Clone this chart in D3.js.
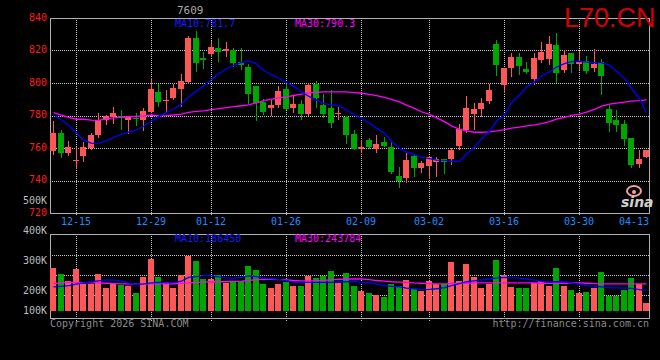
<!DOCTYPE html>
<html><head><meta charset="utf-8">
<script src="https://cdn.jsdelivr.net/npm/d3@7"></script>
<style>html,body{margin:0;padding:0;background:#000;}svg{display:block;}</style>
</head><body>
<svg id="chart" width="660" height="360"></svg>
<script>
// ---------- data ----------
const dates = ["12-10","12-11","12-12","12-15","12-16","12-17","12-18","12-19","12-22","12-23","12-24","12-25","12-26",
"12-29","12-30","12-31","01-05","01-06","01-07","01-08","01-09",
"01-12","01-13","01-14","01-15","01-16","01-19","01-20","01-21","01-22","01-23",
"01-26","01-27","01-28","01-29","01-30","02-02","02-03","02-04","02-05","02-06",
"02-09","02-10","02-11","02-12","02-13","02-24","02-25","02-26","02-27",
"03-02","03-03","03-04","03-05","03-06","03-09","03-10","03-11","03-12","03-13",
"03-16","03-17","03-18","03-19","03-20","03-23","03-24","03-25","03-26","03-27",
"03-30","03-31","04-01","04-02","04-03","04-07","04-08","04-09","04-10","04-13"];
const open  = [757.9,769.3,756.7,752.4,754.8,760.3,767.7,777.2,779.1,779.7,777.2,778.5,777.2,782.3,794.3,789.4,790.9,796.2,800.7,827.9,
815.1,817.6,821.8,819.6,820.2,812.9,809.8,798.0,788.5,784.6,786.4,796.2,784.8,786.8,781.0,799.2,786.4,784.4,780.7,779.1,
768.9,759.6,765.0,759.6,763.8,760.8,743.0,741.4,755.3,747.7,749.1,751.2,753.0,753.2,761.4,771.1,781.1,784.2,789.1,823.7,
798.8,809.2,815.7,808.8,802.5,814.1,814.9,823.1,808.0,818.6,811.4,813.3,809.2,812.9,784.0,777.4,774.8,766.1,750.2,754.4];
const high  = [776.6,771.1,764.4,760.5,763.9,769.3,781.5,780.3,785.2,783.4,779.7,781.5,784.4,803.1,799.6,795.6,799.6,805.7,828.8,831.8,
818.8,826.1,827.9,825.5,821.4,821.4,811.9,798.0,790.1,789.3,798.0,799.6,792.6,789.3,799.8,801.1,793.0,795.8,785.2,779.7,
771.3,765.0,766.3,767.7,766.9,764.4,748.5,757.1,755.9,751.8,755.3,754.2,753.4,759.9,774.8,791.9,787.5,790.7,799.2,826.7,
809.4,818.6,818.2,812.7,818.4,825.5,829.2,830.7,820.0,818.6,819.6,816.5,821.2,814.5,786.4,783.4,777.4,766.1,758.9,758.5];
const low   = [756.3,754.2,755.9,747.7,751.8,759.6,766.5,774.6,775.4,771.7,769.5,774.2,771.3,781.9,786.0,782.3,790.0,785.6,800.3,807.2,
809.2,816.5,813.5,816.5,810.4,808.8,787.5,777.2,781.0,780.5,785.4,783.8,782.2,778.1,780.5,785.4,779.3,773.0,777.6,762.8,
759.6,757.3,760.3,757.7,761.4,744.9,735.7,738.9,743.0,745.1,741.8,742.6,744.5,750.0,759.4,769.9,771.7,779.5,788.0,804.7,
794.5,804.3,805.3,806.4,799.6,812.9,811.4,800.7,806.8,806.8,808.8,806.0,807.4,793.3,770.7,770.5,761.6,748.2,748.5,754.4];
const close = [769.5,756.7,760.8,752.8,760.5,768.1,777.0,779.7,781.5,778.3,779.1,778.1,782.7,796.2,788.4,789.8,796.8,801.1,827.9,812.3,
814.3,822.4,818.8,820.8,812.3,811.2,793.1,787.7,782.2,786.6,795.0,784.0,786.8,781.0,798.8,790.7,781.0,775.4,781.7,767.7,
759.6,760.8,760.8,762.4,761.4,745.5,740.0,752.4,747.9,750.5,754.7,753.4,751.6,758.9,771.7,784.6,784.0,787.6,795.6,811.0,
809.2,816.3,810.4,806.8,815.3,818.8,823.7,806.2,817.0,811.4,812.9,807.4,811.9,804.3,775.6,774.2,765.6,749.3,753.4,758.5];
const ma10 = [780.3,777.2,774.2,769.1,765.0,762.8,763.0,764.4,766.5,768.5,769.7,771.1,773.2,776.6,779.3,781.9,784.0,787.0,791.5,795.0,
798.2,802.1,805.7,808.8,810.8,812.5,813.5,811.9,807.8,805.1,803.1,800.3,798.2,794.5,791.9,789.5,787.4,786.4,786.0,783.4,
780.3,778.3,775.2,772.2,769.1,764.0,759.9,757.5,755.9,754.2,753.4,752.6,752.4,751.8,751.8,756.3,760.3,765.6,770.1,776.6,
780.3,788.0,792.5,797.6,800.7,804.3,806.8,809.8,811.9,813.1,813.3,812.9,812.5,812.5,810.8,807.2,802.7,796.6,790.5,781.7];
const ma30 = [781.7,780.3,778.9,777.7,777.7,777.2,777.0,777.9,778.5,778.9,779.3,779.5,779.7,780.3,779.7,779.9,780.3,780.9,781.9,782.5,
782.9,783.6,784.2,784.8,785.4,786.0,786.6,787.8,789.1,790.1,790.9,791.5,792.3,793.1,793.9,794.3,794.5,794.5,794.5,794.5,
794.1,793.7,793.0,792.2,791.1,789.9,788.4,786.4,784.4,782.3,780.7,778.7,776.2,773.6,771.5,770.5,769.7,769.7,769.9,770.5,
771.3,772.2,772.8,773.6,774.2,775.0,776.2,777.7,778.9,780.1,780.9,782.1,783.8,785.8,787.0,787.6,788.2,788.8,789.1,789.6];
// volume in thousands
const volume = [278,259,233,275,225,224,259,211,224,220,219,192,246,308,249,230,211,253,317,301,
240,240,253,227,235,233,284,272,223,213,223,230,217,217,252,243,252,268,227,261,
219,203,190,180,170,226,219,239,207,203,235,226,224,297,235,290,248,210,226,303,
255,216,210,210,227,235,219,277,219,206,190,195,213,265,178,178,206,245,224,140];
const volMa10 = [215,217,219,224,228,232,235,238,237,234,228,223,225,228,230,228,230,234,246,249,
252,252,248,245,244,246,251,249,243,242,240,235,231,230,230,230,230,230,232,232,
232,230,228,224,219,217,215,211,209,206,207,209,213,219,226,232,235,238,241,244,
246,245,244,241,237,233,231,232,232,228,224,219,217,215,213,212,211,210,206,204];
const volMa30 = [226,229,230,230,229,228,228,227,226,225,225,224,224,225,225,225,225,227,228,230,
231,232,232,232,233,234,236,239,240,240,239,238,236,235,235,235,236,239,240,241,
241,241,239,236,234,232,231,230,228,227,226,225,225,226,227,227,228,228,228,228,
228,228,228,228,228,227,227,227,227,228,228,227,226,225,225,225,225,225,225,225];
const priceTicks = [840,820,800,780,760,740,720];
const volTicks = [500,400,300,200,100];
const dateTicks = ["12-15","12-29","01-12","01-26","02-09","03-02","03-16","03-30","04-13"];
const symbol = "L70.CN";
const ma10Label = "MA10:781.7", ma30Label = "MA30:790.3";
const vma10Label = "MA10:186450", vma30Label = "MA30:243784";

// ---------- layout ----------
const svg = d3.select("#chart");
svg.append("rect").attr("width",660).attr("height",360).attr("fill","#000");
const L = 50, R = 649, T = 18, B = 213, VT = 234, VB = 318;
const mono = "'DejaVu Sans Mono', monospace";
const RED = "#ff5757", GREEN = "#00a600";

const x = d3.scaleBand().domain(dates).range([48.5, 651]).padding(0.2);
const cx = d => Math.round(x(d) + x.bandwidth()/2);
const y = d3.scaleLinear().domain([720, 840]).range([B, T]);
const yv = d3.scaleLinear().domain([100,200,300,400,500]).range([311,291.5,261,231.5,201.5]);

const grid = svg.append("g").attr("stroke","#c8c8c8").attr("stroke-dasharray","1,1").attr("shape-rendering","crispEdges");
// horizontal grid main
priceTicks.filter(p => p > 720 && p < 840).forEach(p => {
  const yy = Math.round(y(p)) + 0.5;
  grid.append("line").attr("x1",L).attr("x2",R).attr("y1",yy).attr("y2",yy);
});
// horizontal grid volume (evenly spaced)
d3.range(1,4).forEach(i => {
  const yy = VT + i*20 + 1.5;
  grid.append("line").attr("x1",L).attr("x2",R).attr("y1",yy).attr("y2",yy);
});
// vertical grid
dateTicks.slice(0,-1).forEach(d => {
  const xx = cx(d) + 0.5;
  grid.append("line").attr("x1",xx).attr("x2",xx).attr("y1",T).attr("y2",B+2);
  grid.append("line").attr("x1",xx).attr("x2",xx).attr("y1",VT).attr("y2",VB+3);
});

// borders
const border = svg.append("g").attr("fill","none").attr("stroke","#b0b0b0").attr("shape-rendering","crispEdges");
border.append("rect").attr("x",L+0.5).attr("y",T+0.5).attr("width",R-L).attr("height",B-T);
border.append("rect").attr("x",L+0.5).attr("y",VT+0.5).attr("width",R-L).attr("height",VB-VT);

// candles
const cg = svg.append("g").attr("shape-rendering","crispEdges");
dates.forEach((d,i) => {
  const up = close[i] >= open[i];
  const col = up ? RED : GREEN;
  const c = cx(d);
  cg.append("line").attr("x1",c+0.5).attr("x2",c+0.5)
    .attr("y1",Math.round(y(high[i]))).attr("y2",Math.round(y(low[i]))+1).attr("stroke",col);
  const top = Math.round(y(Math.max(open[i],close[i])));
  const bot = Math.round(y(Math.min(open[i],close[i])));
  cg.append("rect").attr("x",c-3).attr("width",6).attr("y",top).attr("height",Math.max(1,bot-top)).attr("fill",col);
});

// volume bars
const vg = svg.append("g").attr("shape-rendering","crispEdges");
dates.forEach((d,i) => {
  const up = close[i] >= open[i];
  const top = Math.round(yv(volume[i]));
  vg.append("rect").attr("x",cx(d)-3).attr("width",6).attr("y",top)
    .attr("height",Math.round(yv(100))-top).attr("fill",up?RED:GREEN);
});

// MA lines
const line = (arr, sc) => d3.line().x((v,i) => cx(dates[i]) + 0.5).y(v => sc(v))(arr);
svg.append("path").attr("d",line(ma30,y)).attr("fill","none").attr("stroke","#ff00ff").attr("stroke-width",1.3);
svg.append("path").attr("d",line(ma10,y)).attr("fill","none").attr("stroke","#0000ff").attr("stroke-width",1.3);
svg.append("path").attr("d",line(volMa30,yv)).attr("fill","none").attr("stroke","#ff00ff").attr("stroke-width",1.3);
svg.append("path").attr("d",line(volMa10,yv)).attr("fill","none").attr("stroke","#0000ff").attr("stroke-width",1.3);

// axis labels
const txt = svg.append("g").attr("font-family",mono).attr("font-size","10px");
volTicks.forEach(v => {
  txt.append("text").attr("x",47).attr("y",yv(v)+2.8).attr("text-anchor","end").attr("fill","#bdbdbd").text(v+"K");
});
priceTicks.forEach(p => {
  txt.append("text").attr("x",47).attr("y",y(p)+2.6).attr("text-anchor","end").attr("fill","#ff1a1a").text(p);
});
dateTicks.forEach((d,i) => {
  const last = i === dateTicks.length-1;
  txt.append("text").attr("x", last ? R : cx(d)).attr("y",225)
    .attr("text-anchor", last ? "end" : "middle").attr("fill","#1e8cff").text(d);
});

// legends
txt.append("text").attr("x",175).attr("y",27).attr("fill","#1a1aff").text(ma10Label);
txt.append("text").attr("x",295).attr("y",27).attr("fill","#ff00ff").text(ma30Label);
txt.append("text").attr("x",175).attr("y",242).attr("fill","#1a1aff").text(vma10Label);
txt.append("text").attr("x",295).attr("y",242).attr("fill","#ff00ff").text(vma30Label);
txt.append("text").attr("x",177).attr("y",14).attr("fill","#aaaaaa").attr("font-size","11px").text("7609");

// footer
txt.append("text").attr("x",50).attr("y",327).attr("fill","#8a8a8a").text("Copyright 2026 SINA.COM");
txt.append("text").attr("x",R).attr("y",327).attr("text-anchor","end").attr("fill","#8a8a8a").text("http://finance.sina.com.cn");

// symbol
svg.append("text").attr("x",564).attr("y",27).attr("font-family","'Liberation Sans', Arial, sans-serif")
  .attr("font-size","27px").attr("fill","#d40000").text(symbol);

// sina logo (decorative)
const logo = svg.append("g");
logo.append("ellipse").attr("cx",634).attr("cy",191).attr("rx",7).attr("ry",5).attr("fill","none").attr("stroke","#f4a0a0").attr("stroke-width",2);
logo.append("circle").attr("cx",634).attr("cy",192).attr("r",2).attr("fill","#f4a0a0");
logo.append("text").attr("x",621).attr("y",207).attr("font-family","'DejaVu Sans', sans-serif").attr("font-style","italic")
  .attr("font-weight","bold").attr("font-size","14px").attr("fill","#cfcfcf").text("sina");
</script>
</body></html>
